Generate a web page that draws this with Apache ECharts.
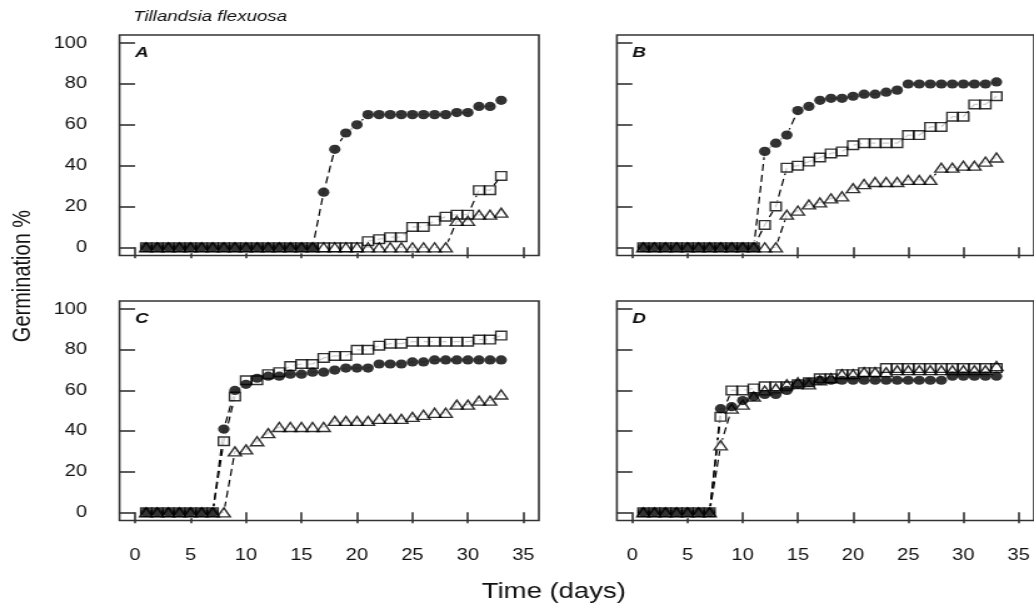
<!DOCTYPE html>
<html>
<head>
<meta charset="utf-8">
<script src="https://cdn.jsdelivr.net/npm/echarts@6/dist/echarts.min.js"></script>
<style>
html,body{margin:0;padding:0;background:#fff;overflow:hidden}
#wrap{width:1034px;height:607px;overflow:hidden;position:relative}
#chart{width:827px;height:607px;transform:scaleX(1.2503);transform-origin:0 0}
</style>
</head>
<body>
<div id="wrap"><div id="chart"></div></div>
<script>
// ---------------- data ----------------
const days = [1,2,3,4,5,6,7,8,9,10,11,12,13,14,15,16,17,18,19,20,21,22,23,24,25,26,27,28,29,30,31,32,33];
const xTickLabels = [0,5,10,15,20,25,30,35];
const yTickLabels = [0,20,40,60,80,100];
const panelLetters = ['A','B','C','D'];

// Panel A
const A_circle   = [0,0,0,0,0,0,0,0,0,0,0,0,0,0,0,0,27,48,56,60,65,65,65,65,65,65,65,65,66,66,69,69,72];
const A_square   = [0,0,0,0,0,0,0,0,0,0,0,0,0,0,0,0,0,0,0,0,3,4,5,5,10,10,13,15,16,16,28,28,35];
const A_triangle = [0,0,0,0,0,0,0,0,0,0,0,0,0,0,0,0,0,0,0,0,0,0,0,0,0,0,0,0,13,13,16,16,17];
// Panel B
const B_circle   = [0,0,0,0,0,0,0,0,0,0,0,47,51,55,67,69,72,73,73,74,75,75,76,77,80,80,80,80,80,80,80,80,81];
const B_square   = [0,0,0,0,0,0,0,0,0,0,0,11,20,39,40,42,44,46,47,50,51,51,51,51,55,55,59,59,64,64,70,70,74];
const B_triangle = [0,0,0,0,0,0,0,0,0,0,0,0,0,16,18,21,22,24,25,29,31,32,32,32,33,33,33,39,39,40,40,42,44];
// Panel C
const C_circle   = [0,0,0,0,0,0,0,41,60,63,66,67,67,68,68,69,69,70,71,71,71,73,73,73,74,74,75,75,75,75,75,75,75];
const C_square   = [0,0,0,0,0,0,0,35,57,65,65,68,69,72,73,73,76,77,77,80,80,82,83,83,84,84,84,84,84,84,85,85,87];
const C_triangle = [0,0,0,0,0,0,0,0,30,31,35,39,42,42,42,42,42,45,45,45,45,46,46,46,47,48,49,49,53,53,55,55,58];
// Panel D
const D_circle   = [0,0,0,0,0,0,0,51,52,55,57,58,58,60,63,64,65,65,65,65,65,65,65,65,65,65,65,65,67,67,67,67,67];
const D_square   = [0,0,0,0,0,0,0,47,60,60,61,62,62,62,63,64,66,66,68,68,69,69,71,71,71,71,71,71,71,71,71,71,71];
const D_triangle = [0,0,0,0,0,0,0,33,51,53,57,60,61,63,64,63,65,66,68,68,69,69,69,70,70,70,70,70,70,70,70,70,72];

const panelData = [
  {circle: A_circle, square: A_square, triangle: A_triangle},
  {circle: B_circle, square: B_square, triangle: B_triangle},
  {circle: C_circle, square: C_square, triangle: C_triangle},
  {circle: D_circle, square: D_square, triangle: D_triangle}
];

// ---------------- layout / style ----------------
const FONT = '"Liberation Sans", Arial, Helvetica, sans-serif';
const INK = '#111';
const gridPos = [
  {left: 95.6,  top: 35,  width: 335.4, height: 220.5},
  {left: 493.4, top: 35,  width: 335.4, height: 220.5},
  {left: 95.6,  top: 301, width: 335.4, height: 219.5},
  {left: 493.4, top: 301, width: 335.4, height: 219.5}
];
const markerDefs = {
  circle:   {symbol: 'circle',   size: 9.2,        style: {color: '#000'}},
  square:   {symbol: 'rect',     size: [8.6, 8.6], style: {color: 'rgba(0,0,0,0)', borderColor: '#000', borderWidth: 1.4}},
  triangle: {symbol: 'triangle', size: [10.4, 9],  style: {color: 'rgba(0,0,0,0)', borderColor: '#000', borderWidth: 1.4}}
};
const kinds = ['circle','square','triangle'];

const grids = [], xAxes = [], yAxes = [], series = [], graphics = [];
gridPos.forEach((g, p) => {
  grids.push(Object.assign({show: true, borderColor: '#333', borderWidth: 1.6, backgroundColor: 'transparent'}, g));
  const bottomRow = p >= 2, leftCol = (p % 2) === 0;
  xAxes.push({
    type: 'value', gridIndex: p, min: -1.4, max: 36.4,
    axisLine: {show: false},
    splitLine: {show: false},
    axisTick: {show: true, inside: false, length: 11, customValues: xTickLabels, lineStyle: {color: '#333', width: 1.6}},
    axisLabel: {show: bottomRow, customValues: xTickLabels, margin: 27, fontSize: 16, color: INK, fontFamily: FONT}
  });
  yAxes.push({
    type: 'value', gridIndex: p, min: -4, max: 104,
    axisLine: {show: false},
    splitLine: {show: false},
    axisTick: {show: true, inside: false, length: 12.8, customValues: yTickLabels, lineStyle: {color: '#333', width: 1.6}},
    axisLabel: {show: leftCol, customValues: yTickLabels, margin: 26, fontSize: 16, color: INK, fontFamily: FONT}
  });
  // lines (dashed, R "type b" style)
  kinds.forEach(k => {
    const vals = panelData[p][k];
    series.push({
      type: 'line', xAxisIndex: p, yAxisIndex: p, z: 1, silent: true,
      showSymbol: false, symbol: 'none',
      lineStyle: {color: '#000', width: 1.2, type: [7, 4]},
      data: days.map((d, i) => [d, vals[i]])
    });
  });
  // white masks creating gaps of the lines around points
  kinds.forEach(k => {
    const vals = panelData[p][k];
    series.push({
      type: 'scatter', xAxisIndex: p, yAxisIndex: p, z: 2, silent: true,
      symbol: 'circle', symbolSize: 12, itemStyle: {color: '#fff'},
      data: days.map((d, i) => [d, vals[i]])
    });
  });
  // markers
  kinds.forEach(k => {
    const vals = panelData[p][k];
    const m = markerDefs[k];
    series.push({
      type: 'scatter', xAxisIndex: p, yAxisIndex: p, z: 3, silent: true,
      symbol: m.symbol, symbolSize: m.size, itemStyle: m.style,
      data: days.map((d, i) => [d, vals[i]])
    });
  });
  graphics.push({
    type: 'text', left: g.left + 12.4, top: g.top + 10,
    style: {text: panelLetters[p], font: 'italic bold 15px ' + FONT, fill: INK}
  });
});

graphics.push({type: 'text', left: 106.4, top: 9,
  style: {text: 'Tillandsia flexuosa', font: 'italic 15px ' + FONT, fill: INK}});
graphics.push({type: 'text', x: 443, y: 592,
  style: {text: 'Time (days)', font: '22px ' + FONT, fill: INK, textAlign: 'center', textVerticalAlign: 'middle'}});
graphics.push({type: 'text', x: 18.4, y: 276, rotation: Math.PI / 2,
  style: {text: 'Germination %', font: '20px ' + FONT, fill: INK, textAlign: 'center', textVerticalAlign: 'middle'}});

const chart = echarts.init(document.getElementById('chart'), null, {renderer: 'canvas'});
chart.setOption({
  animation: false,
  backgroundColor: '#fff',
  grid: grids,
  xAxis: xAxes,
  yAxis: yAxes,
  series: series,
  graphic: graphics
});
</script>
</body>
</html>
